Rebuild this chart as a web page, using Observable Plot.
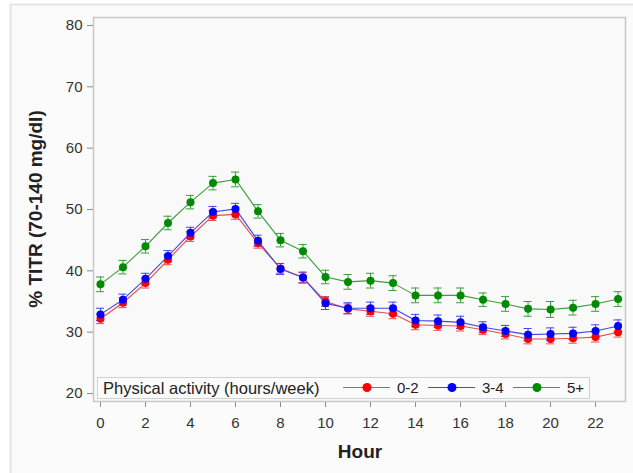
<!DOCTYPE html>
<html>
<head>
<meta charset="utf-8">
<script src="https://cdn.jsdelivr.net/npm/d3@7"></script>
<script src="https://cdn.jsdelivr.net/npm/@observablehq/plot@0.6"></script>
<style>
  html, body { margin: 0; padding: 0; background: #ffffff; }
  #chart { width: 633px; height: 473px; position: relative; overflow: hidden; }
</style>
</head>
<body>
<div id="chart"></div>
<script>
// ---- data ----
const hours = [0,1,2,3,4,5,6,7,8,9,10,11,12,13,14,15,16,17,18,19,20,21,22,23];
const xTicks = [0,2,4,6,8,10,12,14,16,18,20,22];
const yTicks = [20,30,40,50,60,70,80];
const groups = ["0-2", "3-4", "5+"];
const groupColors = ["#ff0000", "#0000ff", "#008a00"];
const lineColors = ["#ec4a4a", "#4646ea", "#3a9e3a"];

const act02 = [32.2,34.8,38.0,41.8,45.6,49.0,49.2,44.5,40.4,38.9,35.0,33.8,33.4,33.0,31.2,31.1,31.0,30.4,29.7,28.9,28.9,29.0,29.2,30.0];
const act34 = [32.9,35.3,38.7,42.4,46.2,49.6,50.1,44.9,40.3,38.9,34.7,33.9,33.9,33.9,31.9,31.8,31.6,30.8,30.2,29.6,29.7,29.8,30.2,31.0];
const act5p = [37.8,40.6,44.0,47.8,51.2,54.3,54.9,49.7,45.0,43.2,39.0,38.2,38.4,38.0,36.0,36.0,36.0,35.3,34.6,33.8,33.7,34.0,34.6,35.4];

const err02 = [0.8,0.8,0.8,0.8,0.8,0.8,0.8,0.8,0.8,0.8,0.8,0.8,0.8,0.8,0.8,0.8,0.8,0.8,0.8,0.8,0.8,0.8,0.8,0.8];
const err34 = [1.0,0.9,0.9,0.9,0.9,0.9,0.9,0.9,0.9,0.9,1.0,0.9,1.0,1.0,1.0,1.0,1.0,0.9,0.9,1.0,1.0,1.0,1.0,1.0];
const err5p = [1.2,1.1,1.1,1.1,1.1,1.1,1.2,1.1,1.1,1.1,1.1,1.2,1.2,1.2,1.2,1.2,1.2,1.1,1.2,1.2,1.3,1.2,1.2,1.2];

const seriesValues = [act02, act34, act5p];
const seriesErrors = [err02, err34, err5p];

const rows = [];
groups.forEach((g, i) => {
  hours.forEach((h, j) => {
    rows.push({group: g, hour: h, value: seriesValues[i][j], err: seriesErrors[i][j]});
  });
});

const W = 633, H = 473;
const capHalf = 0.18;

const svg = Plot.plot({
  width: W,
  height: H,
  marginLeft: 93,
  marginRight: 8,
  marginTop: 17,
  marginBottom: 72,
  style: {fontFamily: "'Liberation Sans', Arial, sans-serif", fontSize: "15px", color: "#333", background: "transparent"},
  x: {domain: [-0.31, 23.33], ticks: xTicks, tickSize: 6, tickPadding: 10, label: null, tickFormat: d => d},
  y: {domain: [18.7, 81.3], ticks: yTicks, tickSize: 6, tickPadding: 5, label: null},
  color: {domain: groups, range: groupColors},
  marks: [
    Plot.frame({fill: "#f8f9f8", stroke: "#c6cac6", strokeWidth: 1.5}),
    Plot.ruleX(rows, {x: "hour", y1: d => d.value - d.err, y2: d => d.value + d.err,
      stroke: d => lineColors[groups.indexOf(d.group)], strokeWidth: 1}),
    Plot.ruleY(rows, {y: d => d.value + d.err, x1: d => d.hour - capHalf, x2: d => d.hour + capHalf,
      stroke: d => lineColors[groups.indexOf(d.group)], strokeWidth: 1}),
    Plot.ruleY(rows, {y: d => d.value - d.err, x1: d => d.hour - capHalf, x2: d => d.hour + capHalf,
      stroke: d => lineColors[groups.indexOf(d.group)], strokeWidth: 1}),
    Plot.line(rows, {x: "hour", y: "value", z: "group",
      stroke: d => lineColors[groups.indexOf(d.group)], strokeWidth: 1.1}),
    Plot.dot(rows, {x: "hour", y: "value", fill: "group", r: 4, stroke: "none"})
  ]
});

// outer card + texts
const s = d3.select(svg);
s.attr("style", (s.attr("style") || "") + ";background:#ffffff;");
s.insert("rect", ":first-child")
  .attr("x", 10.5).attr("y", 4.5).attr("width", W).attr("height", H)
  .attr("fill", "#fbfbfb").attr("stroke", "#e2e6e2").attr("stroke-width", 2);
s.selectAll("g[aria-label='x-axis tick'] path, g[aria-label='y-axis tick'] path").attr("stroke", "#8a8a8a");
s.selectAll("g[aria-label='x-axis tick label'] text, g[aria-label='y-axis tick label'] text").attr("fill", "#333");

// axis titles
s.append("text").attr("x", 360).attr("y", 458).attr("text-anchor", "middle")
  .attr("font-size", 19).attr("font-weight", "bold").attr("fill", "#222")
  .text("Hour");
s.append("text").attr("transform", "translate(42,209) rotate(-90)").attr("text-anchor", "middle")
  .attr("font-size", 19).attr("font-weight", "bold").attr("fill", "#222")
  .text("% TITR (70-140 mg/dl)");

// legend
const lg = s.append("g").attr("font-size", 15).attr("fill", "#222").attr("text-anchor", "start");
lg.append("rect").attr("x", 97.5).attr("y", 377.5).attr("width", 492).attr("height", 21)
  .attr("fill", "#fafbfa").attr("stroke", "#cfd3cf");
lg.append("text").attr("x", 103).attr("y", 393.5).attr("font-size", 16.5).attr("text-anchor", "start")
  .text("Physical activity (hours/week)");
const itemX = [343, 428, 513];
groups.forEach((g, i) => {
  const x0 = itemX[i];
  lg.append("line").attr("x1", x0).attr("x2", x0 + 47).attr("y1", 387.5).attr("y2", 387.5)
    .attr("stroke", lineColors[i]).attr("stroke-width", 1.1);
  lg.append("circle").attr("cx", x0 + 24).attr("cy", 387.5).attr("r", 4.5).attr("fill", groupColors[i]);
  lg.append("text").attr("x", x0 + 54).attr("y", 393).attr("text-anchor", "start").text(g);
});

document.getElementById("chart").appendChild(svg);
</script>
</body>
</html>
